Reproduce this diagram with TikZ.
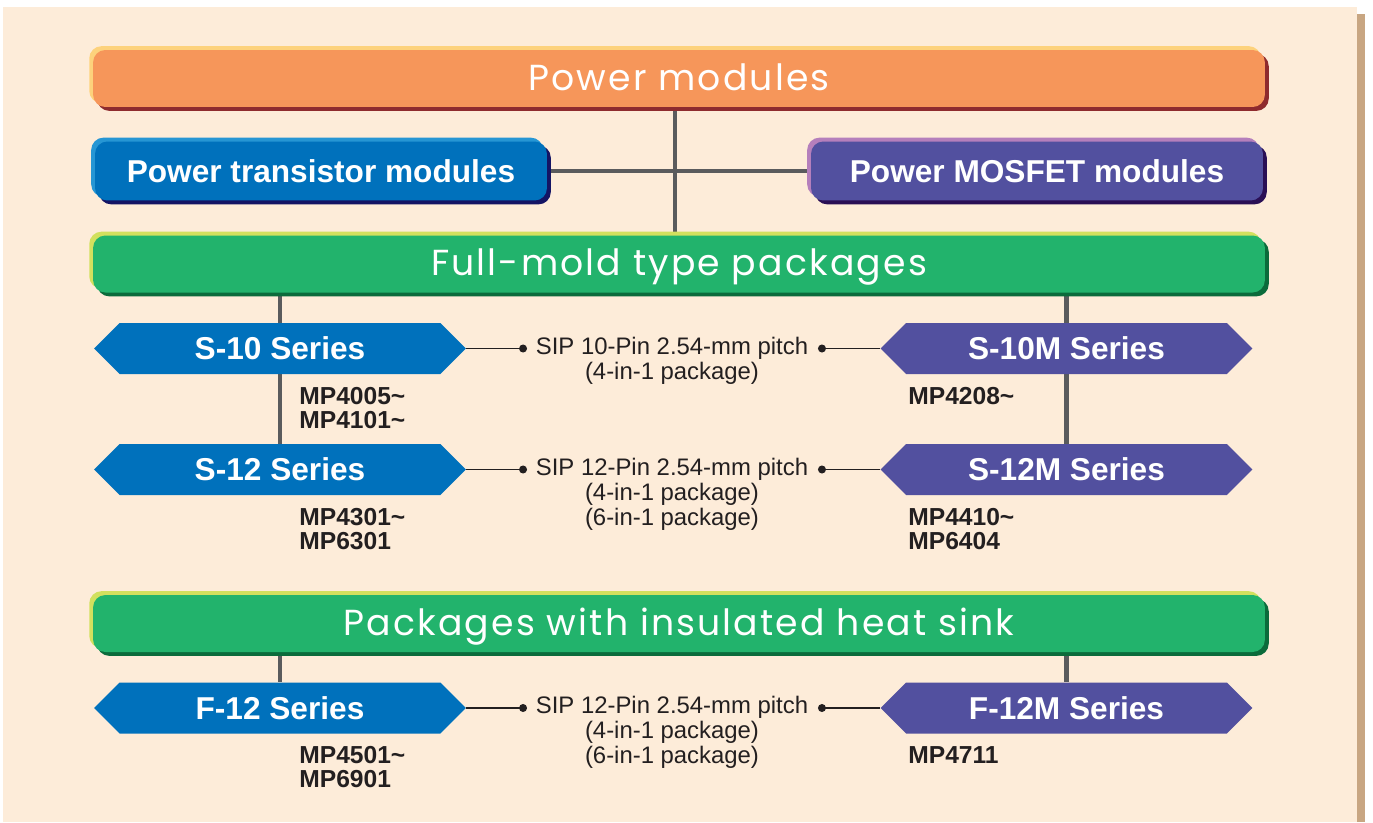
\documentclass[tikz,border=0pt]{standalone}
\usepackage{fontspec}
\setmainfont{Liberation Sans}
\newfontfamily\titlefont[LetterSpace=6]{Poppins}
\usetikzlibrary{arrows.meta,positioning,shapes.symbols,backgrounds}

\definecolor{cream}{HTML}{FDECD9}
\definecolor{tanedge}{HTML}{C8A682}
\definecolor{linegray}{HTML}{5A5B5D}
\definecolor{textdark}{HTML}{231F20}
\definecolor{pmorange}{HTML}{F6965A}
\definecolor{pmhi}{HTML}{FDD27C}
\definecolor{pmdark}{HTML}{8E2B2E}
\definecolor{tmblue}{HTML}{0071BC}
\definecolor{tmhi}{HTML}{2696D4}
\definecolor{tmdark}{HTML}{141464}
\definecolor{mospurple}{HTML}{52509F}
\definecolor{moshi}{HTML}{B57FBC}
\definecolor{mosdark}{HTML}{2A0F55}
\definecolor{pkgreen}{HTML}{22B36C}
\definecolor{pkhi}{HTML}{D2E05E}
\definecolor{pkdark}{HTML}{0B6B3B}

\begin{document}
\begin{tikzpicture}[x=0.02cm,y=-0.02cm]
\tikzset{
  barbox/.style n args={3}{rounded corners=7pt,fill=#1,text=white,inner sep=0pt,
    preaction={fill=#3,transform canvas={shift={(2.2pt,-2.2pt)}}},
    preaction={fill=#2,transform canvas={shift={(-2.2pt,2.2pt)}}}},
  titlebar/.style={minimum width=23.44cm,minimum height=1.14cm,
    text height=17.5pt,text depth=4pt,
    font=\titlefont\fontsize{20.6}{25}\selectfont},
  modulebar/.style={minimum width=9.04cm,minimum height=1.18cm,
    font=\bfseries\fontsize{18}{22}\selectfont},
  seriesbox/.style={signal,signal to=east and west,signal pointer angle=90,
    fill=#1,text=white,minimum width=7.44cm,minimum height=1.02cm,inner sep=0pt,
    font=\bfseries\fontsize{18}{22}\selectfont},
  pinfo/.style={align=center,text=textdark,inner sep=0pt,
    font=\fontsize{13.6}{14.2}\selectfont},
  partno/.style={align=left,anchor=north west,text=textdark,inner sep=0pt,
    font=\bfseries\fontsize{14}{13.4}\selectfont},
  trunk/.style={draw=linegray,line width=2.4pt},
  lead/.style={draw=textdark,line width=0.8pt,-{Circle[length=4.5pt]}}
}
\useasboundingbox (0,0) rectangle (1373,822);

% top level
\node[titlebar,barbox={pmorange}{pmhi}{pmdark}] (powermod) at (679,78.5) {Power modules};
\node[modulebar,barbox={tmblue}{tmhi}{tmdark}] (transmod) at (321,171) {Power transistor modules};
\node[modulebar,barbox={mospurple}{moshi}{mosdark}] (mosmod) at (1037,171) {Power MOSFET modules};
\coordinate (hub) at (675,171);

% full-mold packages
\node[titlebar,barbox={pkgreen}{pkhi}{pkdark}] (fullmold) at (679,264) {Full-mold type packages};
\node[seriesbox=tmblue] (s10) at (280,348.5) {S-10 Series};
\node[seriesbox=tmblue] (s12) at (280,469.5) {S-12 Series};
\node[seriesbox=mospurple] (s10m) at (1066.5,348.5) {S-10M Series};
\node[seriesbox=mospurple] (s12m) at (1066.5,469.5) {S-12M Series};
\node[pinfo] (sip10) at (672,361) {SIP 10-Pin 2.54-mm pitch\\(4-in-1 package)};
\node[pinfo] (sip12) at (672,494.5) {SIP 12-Pin 2.54-mm pitch\\(4-in-1 package)\\(6-in-1 package)};
\coordinate (l10) at (527,348.5);
\coordinate (r10) at (818,348.5);
\coordinate (l12) at (527,469.5);
\coordinate (r12) at (818,469.5);
\node[partno] (mp10) at (299,387) {MP4005\textasciitilde\\MP4101\textasciitilde};
\node[partno] (mp12) at (299,508) {MP4301\textasciitilde\\MP6301};
\node[partno] (mp10m) at (908,387) {MP4208\textasciitilde};
\node[partno] (mp12m) at (908,508) {MP4410\textasciitilde\\MP6404};

% insulated heat sink packages
\node[titlebar,barbox={pkgreen}{pkhi}{pkdark}] (heatsink) at (679,623.5) {Packages with insulated heat sink};
\node[seriesbox=tmblue] (f12) at (280,708) {F-12 Series};
\node[seriesbox=mospurple] (f12m) at (1066.5,708) {F-12M Series};
\node[pinfo] (sipf12) at (672,732) {SIP 12-Pin 2.54-mm pitch\\(4-in-1 package)\\(6-in-1 package)};
\coordinate (lf12) at (527,708);
\coordinate (rf12) at (818,708);
\node[partno] (mpf12) at (299,746) {MP4501\textasciitilde\\MP6901};
\node[partno] (mpf12m) at (908,746) {MP4711};

\begin{scope}[on background layer]
\fill[white] (0,0) rectangle (1373,822);
\fill[cream] (3,7) rectangle (1357,822);
\fill[tanedge] (1357,14) rectangle (1365,822);
\draw[trunk] (powermod.south -| hub) -- (fullmold.north -| hub);
\draw[trunk] (transmod) -- (mosmod);
\draw[trunk] (fullmold.south -| s10) -- (s12.north);
\draw[trunk] (fullmold.south -| s10m) -- (s12m.north);
\draw[trunk] (heatsink.south -| f12) -- (f12.north);
\draw[trunk] (heatsink.south -| f12m) -- (f12m.north);
\end{scope}

\draw[lead] (s10.east) -- (l10);
\draw[lead] (s10m.west) -- (r10);
\draw[lead] (s12.east) -- (l12);
\draw[lead] (s12m.west) -- (r12);
\draw[lead] (f12.east) -- (lf12);
\draw[lead] (f12m.west) -- (rf12);
\end{tikzpicture}
\end{document}
